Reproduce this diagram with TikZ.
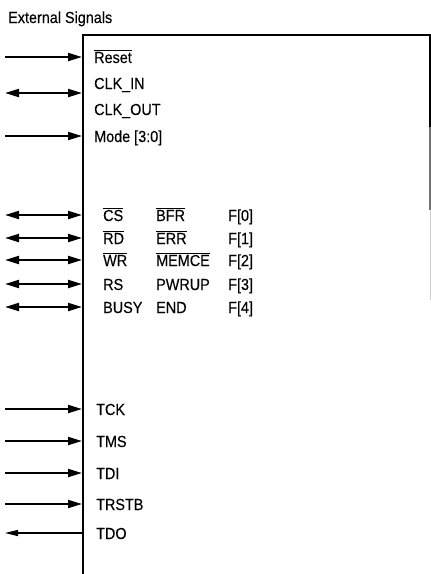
\documentclass[tikz,border=0pt]{standalone}
\usepackage{fontspec}
\setmainfont{Liberation Sans}
\newfontfamily\sigfont[FakeStretch=0.9,FakeBold=0.25]{Liberation Sans}
\usetikzlibrary{arrows.meta}

\newcommand{\ovl}[1]{$\overline{\mbox{#1}}$}

\begin{document}
\begin{tikzpicture}[x=1pt,y=-1pt,
  inpin/.style={line width=2pt,-{Triangle[length=14pt,width=8pt]}},
  bipin/.style={line width=2pt,{Triangle[length=14pt,width=8pt]}-{Triangle[length=14pt,width=8pt]}},
  outpin/.style={line width=1.3pt,-{Triangle[length=13pt,width=6pt]}},
  sig/.style={anchor=base west,inner sep=0pt,font=\sigfont\fontsize{16}{19}\selectfont}]
\useasboundingbox (0,0) rectangle (431,574);
\node[sig] (title) at (8,23) {External Signals};
% the block
\draw[line width=2pt] (83,574) -- (83,35) -- (430,35) -- (430,127);
\draw[line width=1.2pt,black!55] (430,127) -- (430,210);
\draw[line width=1pt,black!20] (430,210) -- (430,300);
% pins
\foreach \y/\n in {57/reset,136/mode,409/tck,441/tms,473/tdi,504/trstb}{
  \coordinate (\n-ext) at (5,\y);
  \coordinate (\n-pin) at (82,\y);
  \draw[inpin] (\n-ext) -- (\n-pin);
}
\foreach \y/\n in {93/clk,215/cs,238/rd,260/wr,284/rs,307/busy}{
  \coordinate (\n-ext) at (5,\y);
  \coordinate (\n-pin) at (82,\y);
  \draw[bipin] (\n-ext) -- (\n-pin);
}
\coordinate (tdo-ext) at (5,533);
\coordinate (tdo-pin) at (82,533);
\draw[outpin] (tdo-pin) -- (tdo-ext);
% labels
\node[sig] (lreset) at (94,63) {\ovl{Reset}};
\node[sig] (lclkin) at (94,89) {CLK\_IN};
\node[sig] (lclkout) at (94,115) {CLK\_OUT};
\node[sig] (lmode) at (94,142) {Mode [3:0]};
\foreach \y/\i/\a/\b/\c in {221/0/\ovl{CS}/\ovl{BFR}/F[0],244/1/\ovl{RD}/\ovl{ERR}/F[1],
  266/2/\ovl{WR}/\ovl{MEMCE}/F[2],290/3/RS/PWRUP/F[3],313/4/BUSY/END/F[4]}{
  \node[sig] (lbus\i) at (103,\y) {\a};
  \node[sig] (lstat\i) at (156,\y) {\b};
  \node[sig] (lf\i) at (228,\y) {\c};
}
\foreach \y/\t in {415/TCK,447/TMS,479/TDI,510/TRSTB,539/TDO}
  \node[sig] (l\t) at (96,\y) {\t};
\end{tikzpicture}
\end{document}
